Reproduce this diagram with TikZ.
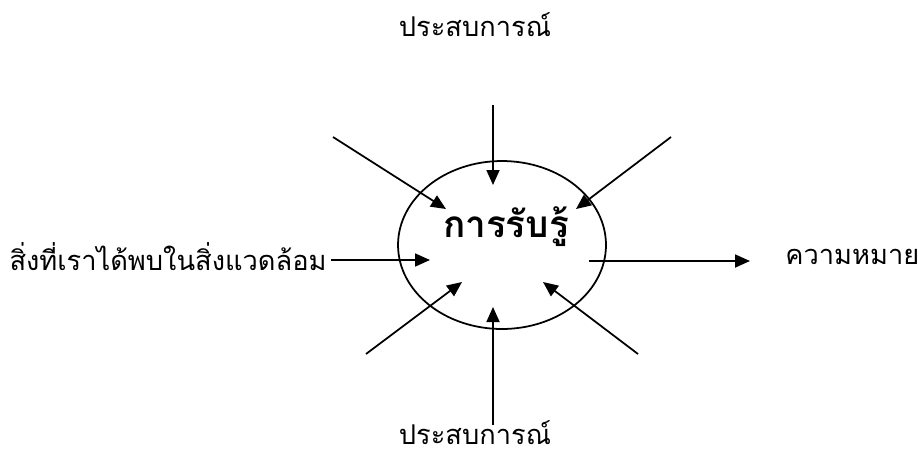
\documentclass[tikz,border=0pt]{standalone}
\usepackage{fontspec}
\newfontfamily\thaifont[Script=Thai]{Loma}
\usetikzlibrary{arrows.meta,shapes.geometric}
\begin{document}
\begin{tikzpicture}[x=0.02cm, y=-0.02cm, line width=1pt,
    >={Triangle[length=0.3cm,width=0.26cm]},
    every node/.style={font=\thaifont\fontsize{15.5}{18}\selectfont}]
  \useasboundingbox (0,0) rectangle (918,457);
  % Nodi
  \node[draw, ellipse, minimum width=4.16cm, minimum height=3.36cm] (E) at (502,245) {};
  \node[font=\thaifont\bfseries\fontsize{21}{25}\selectfont] (R) at (506,227) {การรับรู้};
  \node (T) at (475,25) {ประสบการณ์};
  \node (B) at (475,433) {ประสบการณ์};
  \node[anchor=east, inner sep=2pt] (L) at (331,257) {สิ่งที่เราได้พบในสิ่งแวดล้อม};
  \node[anchor=west, inner sep=2pt] (M) at (781,257) {ความหมาย};

  \coordinate (t0) at (493,105);  \coordinate (t1) at (493,185);
  \coordinate (tl0) at (333,137); \coordinate (tl1) at (446,209);
  \coordinate (tr0) at (671,137); \coordinate (tr1) at (576,209);
  \coordinate (l1) at (430,260);
  \coordinate (r0) at (589,261);  \coordinate (r1) at (750,261);
  \coordinate (bl0) at (366,354); \coordinate (bl1) at (462,282);
  \coordinate (br0) at (638,354); \coordinate (br1) at (543,282);
  \coordinate (b0) at (493,425);  \coordinate (b1) at (493,307);

  % Archi
  \draw[->] (t0) -- (t1);
  \draw[->] (tl0) -- (tl1);
  \draw[->] (tr0) -- (tr1);
  \draw[->] (L.east |- l1) -- (l1);
  \draw[->] (r0) -- (r1);
  \draw[->] (bl0) -- (bl1);
  \draw[->] (br0) -- (br1);
  \draw[->] (b0) -- (b1);
\end{tikzpicture}
\end{document}
